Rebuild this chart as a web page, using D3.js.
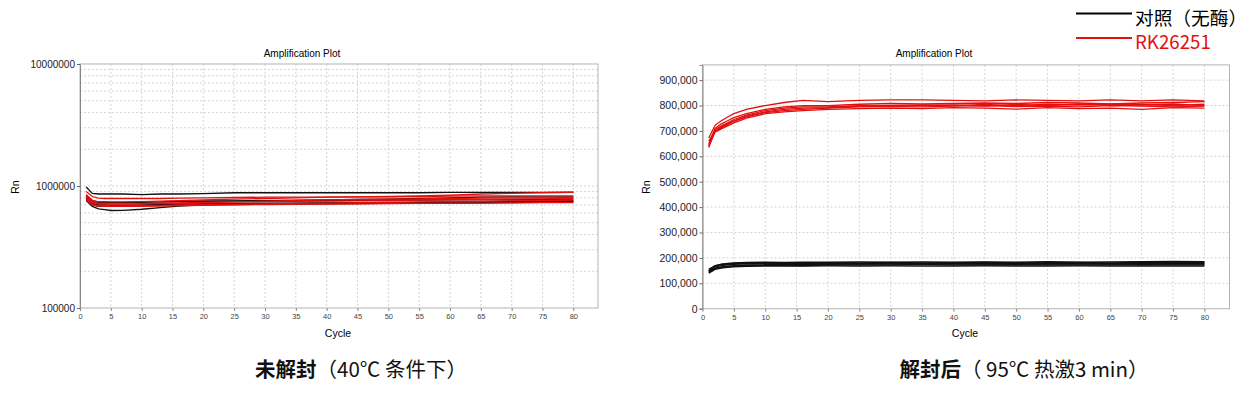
<!DOCTYPE html>
<html>
<head>
<meta charset="utf-8">
<script src="https://cdn.jsdelivr.net/npm/d3@7"></script>
<style>
  body { margin: 0; background: #fff; }
  svg { display: block; }
</style>
</head>
<body>
<svg id="chart" width="1251" height="397"></svg>
<script>
const cycles = [1, 2, 3, 4, 5, 7, 10, 13, 16, 20, 25, 30, 35, 40, 45, 50, 55, 60, 65, 70, 75, 80];

// left plot (sealed, 40°C), Rn in thousands
const sealedControl = [
    [980, 870, 860, 860, 860, 860, 850, 860, 860, 865, 880, 880, 880, 880, 880, 880, 880, 885, 885, 885, 888, 890],
    [800, 720, 700, 700, 695, 695, 700, 705, 710, 715, 720, 725, 725, 728, 730, 735, 735, 740, 745, 750, 755, 760],
    [760, 680, 650, 640, 630, 632, 645, 665, 685, 700, 705, 710, 712, 715, 718, 720, 722, 725, 728, 730, 735, 740],
    [780, 700, 680, 680, 680, 685, 690, 700, 705, 710, 715, 718, 720, 722, 725, 728, 730, 735, 738, 742, 745, 745],
    [820, 740, 730, 730, 730, 730, 740, 745, 748, 750, 752, 755, 758, 760, 762, 765, 768, 770, 772, 775, 778, 780],
    [840, 760, 740, 740, 735, 735, 735, 740, 745, 750, 755, 760, 765, 770, 775, 780, 790, 800, 810, 815, 815, 815]
];
const sealedEnzyme = [
    [900, 820, 795, 790, 790, 790, 790, 790, 795, 800, 805, 810, 810, 812, 815, 815, 820, 825, 830, 830, 830, 830],
    [850, 760, 740, 740, 740, 742, 745, 750, 760, 770, 780, 790, 800, 810, 815, 820, 830, 840, 860, 870, 880, 885],
    [820, 730, 715, 715, 712, 712, 715, 720, 725, 730, 740, 750, 760, 770, 775, 780, 785, 790, 795, 800, 800, 805],
    [790, 710, 690, 690, 688, 688, 690, 695, 700, 705, 710, 715, 720, 725, 730, 735, 740, 745, 750, 755, 760, 765],
    [770, 700, 685, 682, 680, 680, 680, 685, 690, 695, 700, 705, 708, 712, 715, 718, 720, 722, 725, 728, 730, 730],
    [810, 740, 720, 718, 715, 715, 718, 722, 728, 735, 740, 745, 750, 752, 755, 760, 765, 770, 775, 780, 785, 790]
];

// right plot (unsealed, 95°C 3 min), Rn in thousands
const openControl = [
    [150, 168, 175, 178, 180, 182, 183, 182, 183, 183, 184, 183, 184, 183, 184, 183, 185, 183, 184, 185, 186, 185],
    [155, 170, 174, 176, 178, 180, 180, 181, 180, 181, 180, 182, 180, 181, 182, 180, 181, 182, 180, 182, 181, 182],
    [148, 165, 170, 173, 175, 177, 178, 178, 178, 179, 178, 179, 178, 179, 178, 179, 178, 179, 178, 179, 178, 178],
    [145, 160, 165, 168, 170, 172, 173, 174, 175, 175, 176, 176, 175, 176, 176, 175, 176, 176, 176, 175, 176, 176],
    [143, 158, 163, 166, 168, 170, 171, 171, 170, 172, 172, 172, 173, 172, 172, 172, 172, 172, 172, 172, 172, 172],
    [140, 155, 160, 163, 165, 167, 168, 168, 168, 169, 168, 169, 168, 168, 169, 168, 168, 169, 168, 168, 168, 168]
];
const openEnzyme = [
    [672, 722, 740, 755, 768, 785, 800, 812, 820, 815, 820, 822, 822, 820, 818, 822, 820, 818, 822, 818, 822, 818],
    [650, 710, 728, 740, 752, 768, 785, 795, 800, 800, 805, 808, 806, 808, 810, 808, 812, 810, 806, 810, 812, 815],
    [640, 705, 720, 732, 745, 762, 780, 790, 795, 795, 800, 800, 802, 800, 804, 800, 805, 802, 806, 804, 800, 805],
    [635, 700, 715, 728, 740, 758, 775, 785, 790, 792, 798, 798, 800, 802, 798, 804, 800, 806, 800, 802, 806, 800],
    [660, 700, 712, 725, 738, 755, 772, 780, 785, 790, 795, 796, 795, 798, 800, 796, 798, 795, 800, 798, 795, 798],
    [645, 695, 708, 720, 732, 750, 768, 775, 780, 785, 788, 790, 788, 792, 790, 786, 792, 788, 790, 785, 792, 790]
];

const cycleTicks = d3.range(0, 81, 5);
const linearTicks = d3.range(0, 900001, 100000);
const logTicks = [100000, 1000000, 10000000];
const legendLabels = ["对照（无酶）", "RK26251"];

const svg = d3.select("#chart");
const latin = "'Liberation Sans', Arial, sans-serif";
const cjk = "'Noto Sans CJK SC', 'Noto Sans', sans-serif";

function panel(opt) {
    const g = svg.append("g");
    const x = d3.scaleLinear().domain([0, 84]).range([opt.left, opt.right]);
    const y = opt.y;
    const top = y.range()[1], bottom = y.range()[0];

    // grid
    g.append("g").selectAll("line").data(cycleTicks.slice(1))
        .join("line")
        .attr("x1", d => x(d)).attr("x2", d => x(d))
        .attr("y1", top).attr("y2", bottom)
        .attr("stroke", "#d4d4d4").attr("stroke-dasharray", "2,2");
    g.append("g").selectAll("line").data(opt.grid)
        .join("line")
        .attr("x1", opt.left).attr("x2", opt.right)
        .attr("y1", d => y(d)).attr("y2", d => y(d))
        .attr("stroke", "#d4d4d4").attr("stroke-dasharray", "2,2");

    // frame
    g.append("rect")
        .attr("x", opt.left).attr("y", top)
        .attr("width", opt.right - opt.left).attr("height", bottom - top)
        .attr("fill", "none").attr("stroke", "#b4b4b4");

    // axes
    g.append("g")
        .attr("transform", `translate(${opt.left},0)`)
        .call(d3.axisLeft(y).tickValues(opt.ticks).tickFormat(opt.fmt).tickSize(3).tickPadding(2))
        .call(a => a.select(".domain").attr("stroke", "#888"))
        .call(a => a.selectAll(".tick line").attr("stroke", "#666"))
        .call(a => a.selectAll("text").attr("fill", "#222")
            .style("font", `${opt.yFont}px ${latin}`));
    g.append("g")
        .attr("transform", `translate(0,${bottom})`)
        .call(d3.axisBottom(x).tickValues(cycleTicks).tickSize(3).tickPadding(3))
        .call(a => a.select(".domain").remove())
        .call(a => a.selectAll(".tick line").attr("stroke", "#888"))
        .call(a => a.selectAll("text").attr("fill", "#444")
            .style("font", `7.5px ${latin}`));

    // curves
    const line = d3.line().x((d, i) => x(cycles[i])).y(d => y(d * 1000));
    const draw = (series, color) => g.append("g").selectAll("path").data(series)
        .join("path")
        .attr("d", line)
        .attr("fill", "none")
        .attr("stroke", color)
        .attr("stroke-width", 1.3);
    draw(opt.control, "#111");
    draw(opt.enzyme, "#e31010");

    // labels
    g.append("text")
        .attr("x", opt.titleX).attr("y", 57)
        .attr("text-anchor", "middle")
        .style("font", `10px ${latin}`)
        .text("Amplification Plot");
    g.append("text")
        .attr("x", (opt.left + opt.right) / 2 - 1).attr("y", 337)
        .attr("text-anchor", "middle")
        .style("font", `10.5px ${latin}`)
        .text("Cycle");
    g.append("text")
        .attr("transform", `translate(${opt.rnX},187) rotate(-90)`)
        .attr("text-anchor", "middle")
        .style("font", `10.5px ${latin}`)
        .text("Rn");

    // caption
    const cap = g.append("text")
        .attr("x", opt.capX).attr("y", 377)
        .attr("text-anchor", "middle")
        .style("font", `20.5px ${cjk}`)
        .attr("fill", "#111");
    cap.append("tspan").attr("font-weight", "bold").text(opt.capBold);
    cap.append("tspan").text(opt.capRest);
}

const logGrid = [];
[100000, 1000000].forEach(b => d3.range(2, 10).forEach(m => logGrid.push(b * m)));
logGrid.push(1000000);

panel({
    left: 80, right: 598,
    y: d3.scaleLog().domain([100000, 10000000]).range([308, 64]),
    grid: logGrid, ticks: logTicks, fmt: d3.format("d"), yFont: 10,
    control: sealedControl, enzyme: sealedEnzyme,
    titleX: 302, rnX: 19,
    capX: 361, capBold: "未解封", capRest: "（40℃ 条件下）"
});

panel({
    left: 702.5, right: 1229.5,
    y: d3.scaleLinear().domain([0, 960000]).range([308.7, 64.9]),
    grid: linearTicks.slice(1), ticks: linearTicks, fmt: d3.format(","), yFont: 10.5,
    control: openControl, enzyme: openEnzyme,
    titleX: 934, rnX: 650,
    capX: 1024, capBold: "解封后", capRest: "（ 95℃ 热激3 min）"
});

// legend
const legend = svg.append("g");
legend.selectAll("g").data(legendLabels)
    .join("g")
    .each(function (d, i) {
        const g = d3.select(this);
        const color = i === 0 ? "#000" : "#e31010";
        const yy = 13.5 + i * 24.5;
        g.append("line")
            .attr("x1", 1076).attr("x2", 1132)
            .attr("y1", yy).attr("y2", yy)
            .attr("stroke", color).attr("stroke-width", 2);
        g.append("text")
            .attr("x", 1135).attr("y", yy + 11)
            .attr("fill", color)
            .style("font", `18.7px ${cjk}`)
            .text(d);
    });
</script>
</body>
</html>
